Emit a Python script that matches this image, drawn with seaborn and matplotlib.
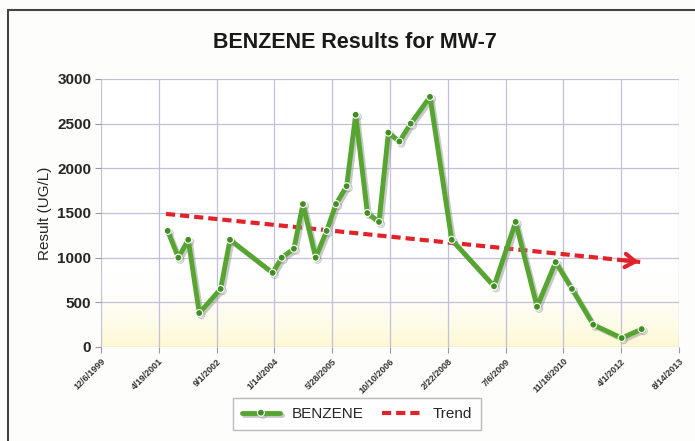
import numpy as np
import pandas as pd
import matplotlib
matplotlib.use("Agg")
import matplotlib.pyplot as plt
import matplotlib.patheffects as pe
from matplotlib.patches import Rectangle
import seaborn as sns

# dados (datas de amostragem e resultado em UG/L)
datas = ['2001-07-05', '2001-10-05', '2001-12-30', '2002-04-04', '2002-10-06',
         '2002-12-26', '2003-12-30', '2004-03-17', '2004-07-01', '2004-09-17',
         '2005-01-05', '2005-04-10', '2005-06-30', '2005-09-30', '2005-12-17',
         '2006-03-28', '2006-07-07', '2006-09-26', '2006-12-30', '2007-04-07',
         '2007-09-21', '2008-03-27', '2009-03-28', '2009-10-01', '2010-04-04',
         '2010-09-12', '2011-01-31', '2011-08-03', '2012-04-05', '2012-09-25']
benzeno = [1300, 1000, 1200, 380, 650,
           1200, 830, 1000, 1100, 1600,
           1000, 1300, 1600, 1800, 2600,
           1500, 1400, 2400, 2300, 2500,
           2800, 1200, 680, 1400, 450,
           950, 650, 250, 100, 200]

# tendência (início e fim)
trend_datas = ['2001-06-20', '2012-09-25']
trend_valores = [1490, 950]

# eixo x: datas a cada 500 dias
x_ini = pd.Timestamp('1999-12-06')
ticks_x = pd.date_range(x_ini, periods=11, freq='500D')
ticks_y = [0, 500, 1000, 1500, 2000, 2500, 3000]

df = pd.DataFrame({'data': pd.to_datetime(datas), 'resultado': benzeno})
df_trend = pd.DataFrame({'data': pd.to_datetime(trend_datas), 'resultado': trend_valores})

sns.set_theme(style="white")
plt.rcParams['font.family'] = ['Liberation Sans', 'DejaVu Sans']

fig = plt.figure(figsize=(6.95, 4.41), dpi=100, facecolor='#fdfdfb')
ax = fig.add_axes([101/695, 1-347/441, 578/695, 268/441])
ax.set_facecolor('white')

# degradê amarelo no fundo da área de plotagem (só na parte de baixo)
grad = np.linspace(0, 1, 256).reshape(-1, 1)
cmap = matplotlib.colors.LinearSegmentedColormap.from_list(
    'amarelo', [(0.0, (1, 1, 1, 0)), (0.72, (1, 1, 1, 0)),
                (1.0, (0.995, 0.975, 0.82, 1))])
ax.imshow(grad, extent=[0, 1, 0, 1], transform=ax.transAxes, aspect='auto',
          cmap=cmap, origin='upper', zorder=0)

sombra = [pe.SimpleLineShadow(offset=(1.5, -1.5), shadow_color='#888888', alpha=0.45),
          pe.Normal()]

sns.lineplot(data=df, x='data', y='resultado', ax=ax, color='#55a530', lw=3.5,
             marker='o', markersize=5, markerfacecolor='#3f8f22',
             markeredgecolor='white', markeredgewidth=0.8,
             label='BENZENE', path_effects=sombra, zorder=3)
sns.lineplot(data=df_trend, x='data', y='resultado', ax=ax, color='#e0232a', lw=3,
             label='Trend', zorder=2)
ax.lines[-1].set_linestyle((0, (2.2, 1.2)))

# ponta de seta aberta da tendência
t0 = matplotlib.dates.date2num(df_trend['data'].iloc[0])
t1 = matplotlib.dates.date2num(df_trend['data'].iloc[1])
v0, v1 = trend_valores
ax.annotate('', xy=(t1, v1), xytext=(t1 - (t1 - t0) * 0.04, v1 + (v0 - v1) * 0.04),
            arrowprops=dict(arrowstyle='->,head_length=0.6,head_width=0.4',
                            color='#e0232a', lw=3), zorder=2)

ax.set_xlim(ticks_x[0], ticks_x[-1])
ax.set_ylim(0, 3000)
ax.set_xticks(ticks_x)
ax.set_xticklabels([f"{d.month}/{d.day}/{d.year}" for d in ticks_x],
                   rotation=45, ha='right', rotation_mode='anchor',
                   fontsize=6.5, fontweight='bold', color='#333333')
ax.set_yticks(ticks_y)
ax.set_yticklabels([str(v) for v in ticks_y], fontsize=11, fontweight='bold')
ax.tick_params(axis='both', length=4, width=0.8, color='#999999', pad=3,
               bottom=True, left=True)
ax.grid(True, color='#c4bfd8', lw=0.9)
for s in ax.spines.values():
    s.set_visible(False)

ax.set_xlabel('')
ax.set_ylabel('Result (UG/L)', fontsize=11, labelpad=4)
fig.text(355/695, 1-43/441, 'BENZENE Results for MW-7', ha='center', va='center',
         fontsize=15.5, fontweight='bold', color='#1a1a1a')

leg = ax.get_legend()
leg.remove()
handles, labels = ax.get_legend_handles_labels()
fig.legend(handles, labels, loc='center', bbox_to_anchor=(357/695, 1-414/441),
           ncol=2, fontsize=11, frameon=True, fancybox=False, edgecolor='#aaaaaa',
           handlelength=2.5, columnspacing=1.2, borderpad=0.6)

# moldura do gráfico
fig.patches.append(Rectangle((8/695, -0.05), 1.0, 1 - 10/441 + 0.05,
                             transform=fig.transFigure, fill=False,
                             edgecolor='#444444', lw=1.5))

fig.savefig('out.png', dpi=100, facecolor=fig.get_facecolor())
